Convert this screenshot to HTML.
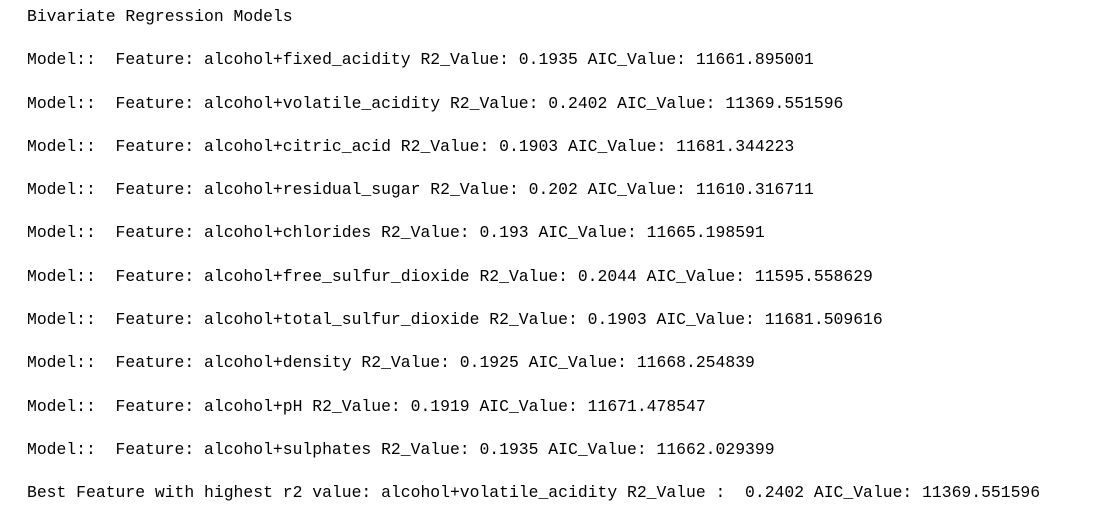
<!DOCTYPE html>
<html>
<head>
<meta charset="utf-8">
<style>
  html, body { margin: 0; padding: 0; background: #ffffff; }
  body { width: 1094px; height: 520px; position: relative; overflow: hidden; }
  .ln {
    position: absolute; left: 27px;
    font-family: "Liberation Mono", monospace;
    font-size: 16.4px; line-height: 20px;
    color: #000000; white-space: pre;
  }
</style>
</head>
<body>
<div class="ln" style="top:7px">Bivariate Regression Models</div>
<div class="ln" style="top:50px">Model::  Feature: alcohol+fixed_acidity R2_Value: 0.1935 AIC_Value: 11661.895001</div>
<div class="ln" style="top:94px">Model::  Feature: alcohol+volatile_acidity R2_Value: 0.2402 AIC_Value: 11369.551596</div>
<div class="ln" style="top:137px">Model::  Feature: alcohol+citric_acid R2_Value: 0.1903 AIC_Value: 11681.344223</div>
<div class="ln" style="top:180px">Model::  Feature: alcohol+residual_sugar R2_Value: 0.202 AIC_Value: 11610.316711</div>
<div class="ln" style="top:223px">Model::  Feature: alcohol+chlorides R2_Value: 0.193 AIC_Value: 11665.198591</div>
<div class="ln" style="top:267px">Model::  Feature: alcohol+free_sulfur_dioxide R2_Value: 0.2044 AIC_Value: 11595.558629</div>
<div class="ln" style="top:310px">Model::  Feature: alcohol+total_sulfur_dioxide R2_Value: 0.1903 AIC_Value: 11681.509616</div>
<div class="ln" style="top:353px">Model::  Feature: alcohol+density R2_Value: 0.1925 AIC_Value: 11668.254839</div>
<div class="ln" style="top:397px">Model::  Feature: alcohol+pH R2_Value: 0.1919 AIC_Value: 11671.478547</div>
<div class="ln" style="top:440px">Model::  Feature: alcohol+sulphates R2_Value: 0.1935 AIC_Value: 11662.029399</div>
<div class="ln" style="top:483px">Best Feature with highest r2 value: alcohol+volatile_acidity R2_Value :  0.2402 AIC_Value: 11369.551596</div>
</body>
</html>
